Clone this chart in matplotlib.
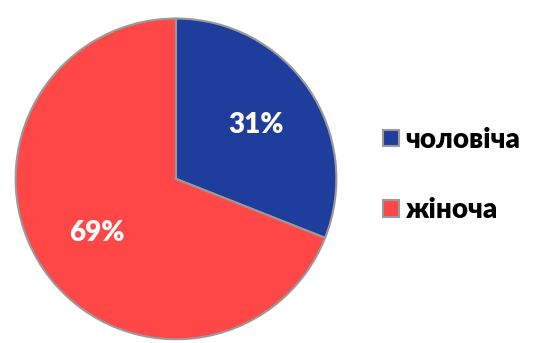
import matplotlib.pyplot as plt

labels = ['чоловіча', 'жіноча']
shares = [31, 69]
colors = ['#1f3d9c', '#ff4747']

plt.rcParams['font.family'] = ['Lato', 'DejaVu Sans']

fig = plt.figure(figsize=(5.39, 3.43), dpi=100, facecolor='white')
ax = fig.add_axes([0.026, 0.006, 0.601, 0.945])

wedges, texts, autotexts = ax.pie(
    shares, colors=colors, startangle=90, counterclock=False,
    autopct='%d%%', pctdistance=0.6,
    wedgeprops=dict(edgecolor='#9a9a9a', linewidth=1.5),
    textprops=dict(color='white', fontsize=20, fontweight='heavy'))
ax.set_xlim(-1.01, 1.01)
ax.set_ylim(-1.01, 1.01)
ax.set_aspect('equal')

fig.legend(wedges, labels, loc='center left', bbox_to_anchor=(0.665, 0.49),
           frameon=False, prop=dict(weight='heavy', size=20),
           handlelength=0.55, handleheight=0.55, handletextpad=0.25,
           labelspacing=1.6)

fig.savefig('out.png', dpi=100, facecolor='white')
